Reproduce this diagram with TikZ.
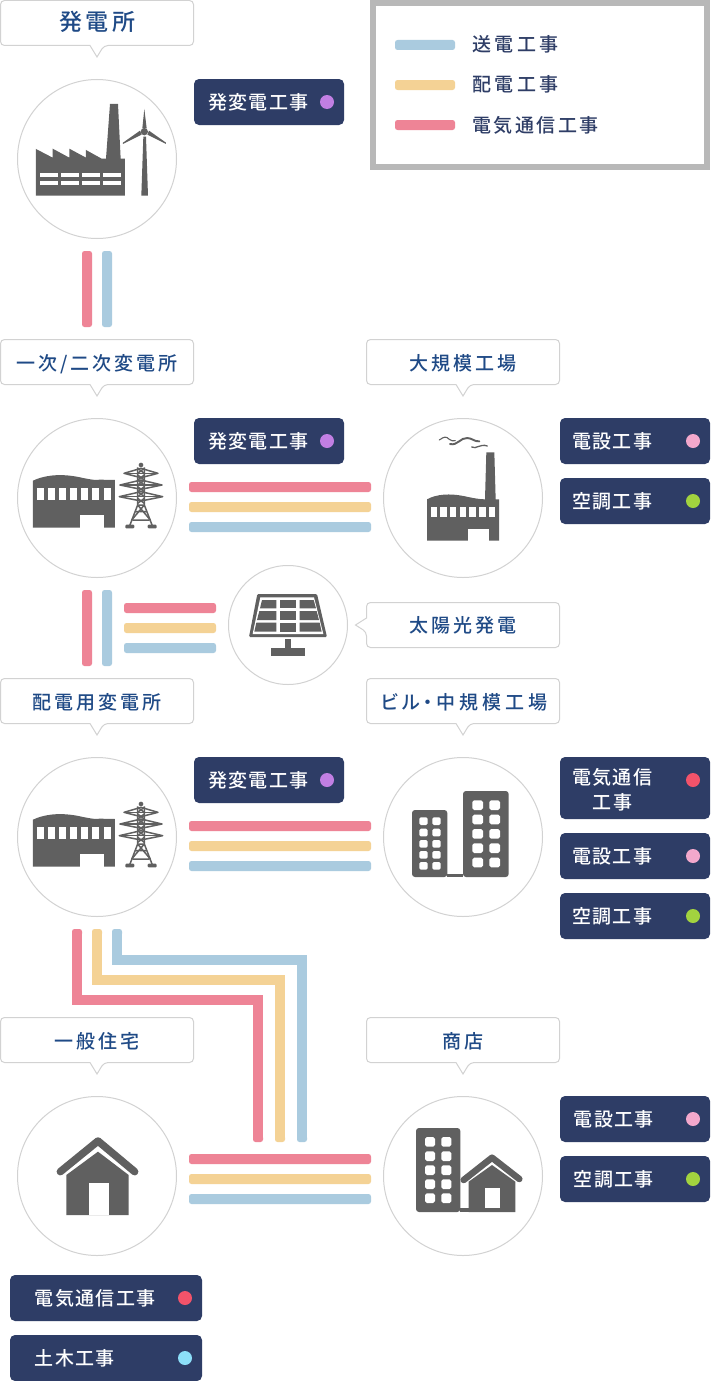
\documentclass[tikz,border=0pt]{standalone}
\usepackage{fontspec}
\newfontfamily\lblbig[LetterSpace=16]{Noto Sans CJK JP Medium}
\newfontfamily\lblfont[LetterSpace=16]{Noto Sans CJK JP Medium}
\newfontfamily\lblkana[LetterSpace=20,RawFeature={+palt}]{Noto Sans CJK JP Medium}
\newfontfamily\tagfont[LetterSpace=7]{Noto Sans CJK JP Medium}
\newfontfamily\legfont[LetterSpace=18]{Noto Sans CJK JP Medium}
\newfontfamily\legwide[LetterSpace=13]{Noto Sans CJK JP Medium}
\definecolor{wpink}{HTML}{EE8496}
\definecolor{wyel}{HTML}{F4D295}
\definecolor{wblue}{HTML}{AACBDF}
\definecolor{navy}{HTML}{2E3D66}
\definecolor{lblc}{HTML}{1F4A86}
\definecolor{edge}{HTML}{D2D2D2}
\definecolor{icon}{HTML}{606060}
\definecolor{dpurple}{HTML}{C17FE3}
\definecolor{dpink}{HTML}{F3A8CC}
\definecolor{dgreen}{HTML}{A2D33F}
\definecolor{dred}{HTML}{F2536A}
\definecolor{dcyan}{HTML}{8CDFF8}
\tikzset{
  txt/.style={inner sep=0pt,text height=15pt,text depth=1pt},
  lbltxt/.style={txt,text=lblc,font=\lblfont\fontsize{19}{19}\selectfont},
  lblbox/.style={draw=edge,fill=white,line width=1pt},
  tagbox/.style={fill=navy,rounded corners=5pt,inner sep=0pt,draw=none},
  tagtxt/.style={txt,text=white,anchor=west,font=\tagfont\fontsize{19}{19}\selectfont},
  legtxt/.style={txt,text=navy,anchor=west,font=\legfont\fontsize{19}{19}\selectfont},
  ring/.style={circle,draw=edge,fill=white,line width=1pt,inner sep=0pt},
  wirepath/.style={line width=10pt,line cap=butt,line join=miter,shorten <=2.5pt,shorten >=2.5pt},
  iconshape/.style={fill=icon,draw=none},
  hole/.style={fill=white,draw=none},
  lattice/.style={draw=icon,line width=1.5pt,line join=round}
}
% straight horizontal wire
\newcommand{\hwire}[5]{% name colour x1 x2 y
  \coordinate (#1-a) at (#3,#5);
  \coordinate (#1-b) at (#4,#5);
  \fill[#2,rounded corners=2.5pt] ({#3},{#5-5}) rectangle ({#4},{#5+5});
  \draw[#2,wirepath] (#1-a) -- (#1-b);
}
\newcommand{\vwire}[5]{% name colour x y1 y2
  \coordinate (#1-a) at (#3,#4);
  \coordinate (#1-b) at (#3,#5);
  \fill[#2,rounded corners=2.5pt] ({#3-5},{#4}) rectangle ({#3+5},{#5});
  \draw[#2,wirepath] (#1-a) -- (#1-b);
}
% elbow wire
\newcommand{\elbow}[5]{% name colour x1 ymid x2
  \coordinate (#1-a) at (#3,929);
  \coordinate (#1-m) at (#3,#4);
  \coordinate (#1-n) at (#5,#4);
  \coordinate (#1-b) at (#5,1142);
  \fill[#2,rounded corners=2.5pt] ({#3-5},929) rectangle ({#3+5},936);
  \fill[#2,rounded corners=2.5pt] ({#5-5},1135) rectangle ({#5+5},1142);
  \draw[#2,wirepath] (#1-a) -- (#1-m) -- (#1-n) -- (#1-b);
}
% callout box with tail below
\newcommand{\calloutbox}[2]{% x y
  \draw[lblbox] ({#1+90},{#2+45.5}) [rounded corners=4pt] -- ({#1+0.5},{#2+45.5}) -- ({#1+0.5},{#2+0.5}) -- ({#1+193.5},{#2+0.5}) -- ({#1+193.5},{#2+45.5}) -- ({#1+104},{#2+45.5}) [sharp corners] -- ({#1+97},{#2+57}) -- cycle;
}
\newcommand{\callout}[4]{% name x y text
  \calloutbox{#2}{#3}
  \node[lbltxt] (#1) at ({#2+97},{#3+24}) {#4};
}
% status tag
\newcommand{\worktag}[9]{% name x1 y1 x2 y2 textx text dotx dotcolour
  \node[tagbox,minimum width={(#4-#2)*1pt},minimum height={(#5-#3)*1pt}] (#1) at ({(#2+#4)/2},{(#3+#5)/2}) {};
  \node[tagtxt] (#1-t) at (#6,{(#3+#5)/2}) {#7};
  \fill[#9] (#8,{(#3+#5)/2}) circle[radius=7];
}
\newcommand{\subicon}[2]{%
  \begin{scope}[shift={(#1,#2)},scale=1/3]
    \fill[iconshape] (99,353) -- (99,212) .. controls (130,197) and (175,190) .. (230,200) .. controls (265,207) and (285,212) .. (300,209) -- (345,210) -- (345,353) -- cycle;
    \foreach \wx in {112,145,178,211,244,277,311} \fill[hole] (\wx,235) rectangle ++(21,35);
    \fill[hole] (240,315) rectangle (313,353);
    % tower
    \fill[iconshape] (423,165) circle[radius=7];
    \draw[lattice] (413,172) -- (413,285) -- (388,350) (433,172) -- (433,285) -- (458,350);
    \foreach \ay/\aw in {190/51,225/63,260/65}{
      \draw[lattice] (423,{\ay-15}) -- ({423-\aw},\ay) -- (423,{\ay+13}) -- ({423+\aw},\ay) -- cycle;
      \draw[lattice] ({423-\aw},\ay) -- ({423+\aw},\ay);
    }
    \foreach \by in {175,195,210,230,245,265}{\draw[lattice] (413,\by) -- (433,{\by+15}) (433,\by) -- (413,{\by+15});}
    \draw[lattice] (413,285) -- (433,285) (405,305) -- (441,305) (413,285) -- (451,330) (433,285) -- (395,330) (398,330) -- (448,330);
    \fill[iconshape,rounded corners=1pt] (376,344) rectangle (403,355);
    \fill[iconshape,rounded corners=1pt] (443,344) rectangle (470,355);
  \end{scope}}
\newcommand{\winrow}[5]{% xlist ylist w h radius
  \foreach \wx in {#1}\foreach \wy in {#2}\fill[hole,rounded corners=#5pt] (\wx,\wy) rectangle ++(#3,#4);}
\begin{document}
\begin{tikzpicture}[x=1pt,y=-1pt]
\useasboundingbox (0,0) rectangle (710,1381);
\fill[white] (0,0) rectangle (710,1381);
% legend
\node[fill=white,inner sep=0pt,minimum width=334pt,minimum height=164pt,draw={rgb,255:red,184;green,184;blue,184},line width=6pt] (legend) at (540,85) {};
\hwire{lega}{wblue}{395}{455}{45}
\hwire{legb}{wyel}{395}{455}{85}
\hwire{legc}{wpink}{395}{455}{125}
\node[legtxt] (legta) at (472,45) {送電工事};
\node[legtxt] (legtb) at (472,85) {配電工事};
\node[legtxt,font=\legwide\fontsize{19}{19}\selectfont] (legtc) at (472,125) {電気通信工事};
% wires
\vwire{wa1}{wpink}{87}{251}{327}
\vwire{wa2}{wblue}{107}{251}{327}
\hwire{wb1}{wpink}{189}{371}{487}
\hwire{wb2}{wyel}{189}{371}{507}
\hwire{wb3}{wblue}{189}{371}{527}
\vwire{wc1}{wpink}{87}{590}{666}
\vwire{wc2}{wblue}{107}{590}{666}
\hwire{wd1}{wpink}{124}{216}{608}
\hwire{wd2}{wyel}{124}{216}{628}
\hwire{wd3}{wblue}{124}{216}{648}
\hwire{we1}{wpink}{189}{371}{826}
\hwire{we2}{wyel}{189}{371}{846}
\hwire{we3}{wblue}{189}{371}{866}
\elbow{wf1}{wpink}{77}{1000}{258}
\elbow{wf2}{wyel}{97}{980}{280}
\elbow{wf3}{wblue}{117}{960}{302}
\hwire{wg1}{wpink}{189}{371}{1159}
\hwire{wg2}{wyel}{189}{371}{1179}
\hwire{wg3}{wblue}{189}{371}{1199}
% callouts
\calloutbox{0}{0}
\node[lbltxt,font=\lblbig\fontsize{23}{23}\selectfont] (l1) at (97.5,24) {発電所};
\callout{l2}{0}{339}{一次/二次変電所}
\callout{l3}{366}{339}{大規模工場}
\callout{l4}{0}{678}{配電用変電所}
\calloutbox{366}{678}
\node[lbltxt,font=\lblkana\fontsize{19}{19}\selectfont] (l5) at (464,702) {ビル・中規模工場};
\callout{l6}{0}{1017}{一般住宅}
\callout{l7}{366}{1017}{商店}
\draw[lblbox] (366.5,618) [rounded corners=4pt] -- (366.5,602.5) -- (559.5,602.5) -- (559.5,647.5) -- (366.5,647.5) -- (366.5,632) [sharp corners] -- (355.5,625) -- cycle;
\node[lbltxt] (l8) at (463,625.5) {太陽光発電};
% circles
\node[ring,minimum size=159pt] (c1) at (97,159) {};
\node[ring,minimum size=159pt] (c2) at (97,498) {};
\node[ring,minimum size=159pt] (c3) at (463,498) {};
\node[ring,minimum size=119pt] (c4) at (288,625) {};
\node[ring,minimum size=159pt] (c5) at (97,837) {};
\node[ring,minimum size=159pt] (c6) at (463,837) {};
\node[ring,minimum size=159pt] (c7) at (97,1176) {};
\node[ring,minimum size=159pt] (c8) at (463,1176) {};
% tags
\worktag{t1}{194}{79}{344}{125}{208}{発変電工事}{327}{dpurple}
\worktag{t2}{194}{418}{344}{464}{208}{発変電工事}{327}{dpurple}
\worktag{t3}{560}{418}{710}{464}{572}{電設工事}{693}{dpink}
\worktag{t4}{560}{478}{710}{524}{572}{空調工事}{693}{dgreen}
\worktag{t5}{194}{757}{344}{803}{208}{発変電工事}{327}{dpurple}
\node[tagbox,minimum width=150pt,minimum height=62pt] (t6) at (635,788) {};
\node[tagtxt] (t6a) at (572,777) {電気通信};
\node[tagtxt] (t6b) at (592.5,802) {工事};
\fill[dred] (693,780) circle[radius=7];
\worktag{t7}{560}{833}{710}{879}{572}{電設工事}{693}{dpink}
\worktag{t8}{560}{893}{710}{939}{572}{空調工事}{693}{dgreen}
\worktag{t9}{560}{1096}{710}{1142}{573.5}{電設工事}{693}{dpink}
\worktag{t10}{560}{1156}{710}{1202}{573.5}{空調工事}{693}{dgreen}
\worktag{t11}{10}{1275}{202}{1321}{34.5}{電気通信工事}{185}{dred}
\worktag{t12}{10}{1335}{202}{1381}{34.5}{土木工事}{185}{dcyan}
% icon: power station
\begin{scope}[scale=1/3]
  \fill[iconshape] (108,587) -- (108,447) -- (158,473) -- (158,446) -- (208,473) -- (208,446) -- (258,473) -- (258,450) -- (305,476) -- (318,476) -- (330,312) -- (354,312) -- (362,476) -- (375,476) -- (375,587) -- cycle;
  \foreach \wx/\ww in {120/55,183/55,245/55,308/54}{
    \fill[hole] (\wx,519) rectangle ++(\ww,13);
    \fill[hole] (\wx,542) rectangle ++(\ww,13);}
  \fill[iconshape] (424,587) -- (430,410) -- (438,410) -- (444,587) -- cycle;
  \fill[iconshape] (433,327) -- (427,385) -- (440,385) -- cycle;
  \fill[iconshape] (369,428) -- (369,432) -- (425,404) -- (420,392) -- cycle;
  \fill[iconshape] (498,428) -- (498,432) -- (442,404) -- (447,392) -- cycle;
  \fill[iconshape] (433,395) circle[radius=11];
\end{scope}
% icon: substations
\subicon{0}{410}
\subicon{0}{749}
% icon: large factory
\begin{scope}[shift={(370,410)},scale=1/3]
  \fill[iconshape] (171,392) -- (171,268) .. controls (200,252) and (240,250) .. (280,258) .. controls (305,263) and (325,268) .. (345,268) -- (349,127) -- (373,127) -- (377,268) -- (387,268) -- (387,392) -- cycle;
  \foreach \wx in {182,211,240,269,298,328,357} \fill[hole] (\wx,290) rectangle ++(19,30);
  \fill[hole] (295,358) rectangle (358,392);
  \draw[icon,line width=1.1pt,line cap=round] (208,90) .. controls (222,80) and (228,78) .. (238,88) .. controls (243,92) and (250,94) .. (256,92);
  \draw[icon,line width=1.9pt,line cap=round] (240,102) .. controls (262,108) and (272,82) .. (292,84) .. controls (308,85) and (312,95) .. (328,94);
  \draw[icon,line width=1.3pt,line cap=round] (305,111) .. controls (318,119) and (330,100) .. (352,108);
\end{scope}
% icon: solar panel
\begin{scope}[shift={(0,410)},scale=1/3]
  \fill[iconshape,rounded corners=1.2pt] (772,552) -- (951,552) -- (981,681) -- (747,681) -- cycle;
  \fill[hole] (781,562) -- (942,562) -- (970,672) -- (758,672) -- cycle;
  \fill[iconshape] (786,570) -- (829,570) -- (829,595) -- (780,595) -- cycle;
  \fill[iconshape] (840,570) rectangle (888,595);
  \fill[iconshape] (899,570) -- (941,570) -- (948,595) -- (899,595) -- cycle;
  \fill[iconshape] (778,603) -- (829,603) -- (829,630) -- (771,630) -- cycle;
  \fill[iconshape] (840,603) rectangle (888,630);
  \fill[iconshape] (899,603) -- (950,603) -- (957,630) -- (899,630) -- cycle;
  \fill[iconshape] (769,638) -- (829,638) -- (829,665) -- (763,665) -- cycle;
  \fill[iconshape] (840,638) rectangle (888,665);
  \fill[iconshape] (899,638) -- (959,638) -- (965,665) -- (899,665) -- cycle;
  \fill[iconshape] (856,688) rectangle (872,716);
  \fill[iconshape] (812,715) rectangle (916,738);
\end{scope}
% icon: office buildings
\begin{scope}[shift={(370,750)},scale=1/3]
  \fill[iconshape] (232,371) rectangle (279,381);
  \fill[iconshape,rounded corners=3pt] (126,381) -- (126,180) -- (232,180) -- (232,381) -- cycle;
  \fill[iconshape,rounded corners=3pt] (279,381) -- (279,123) -- (416,123) -- (416,381) -- cycle;
  \winrow{148,187}{202,236,270,303,336}{25}{23}{1.5}
  \winrow{307,358}{151,194,237,280,323}{32}{29}{1.8}
\end{scope}
% icon: house
\begin{scope}[shift={(0,1090)},scale=1/3]
  \fill[iconshape] (199,375) -- (199,255) -- (294,185) -- (386,255) -- (386,375) -- cycle;
  \draw[icon,line width=7.5pt,line cap=round,line join=round] (181,245) -- (294,153) -- (404,245);
  \fill[hole] (268,280) rectangle (327,375);
\end{scope}
% icon: shop
\begin{scope}[shift={(370,1090)},scale=1/3]
  \fill[iconshape] (271,354) rectangle (296,366);
  \fill[iconshape,rounded corners=3pt] (138,366) -- (138,114) -- (271,114) -- (271,366) -- cycle;
  \winrow{165,214}{141,184,226,268,310}{30}{29}{1.8}
  \fill[iconshape] (296,366) -- (296,275) -- (366,225) -- (436,275) -- (436,366) -- cycle;
  \draw[icon,line width=6.5pt,line cap=round,line join=round] (281,270) -- (366,203) -- (448,267);
  \fill[hole] (345,295) rectangle (390,354);
\end{scope}
\end{tikzpicture}
\end{document}
